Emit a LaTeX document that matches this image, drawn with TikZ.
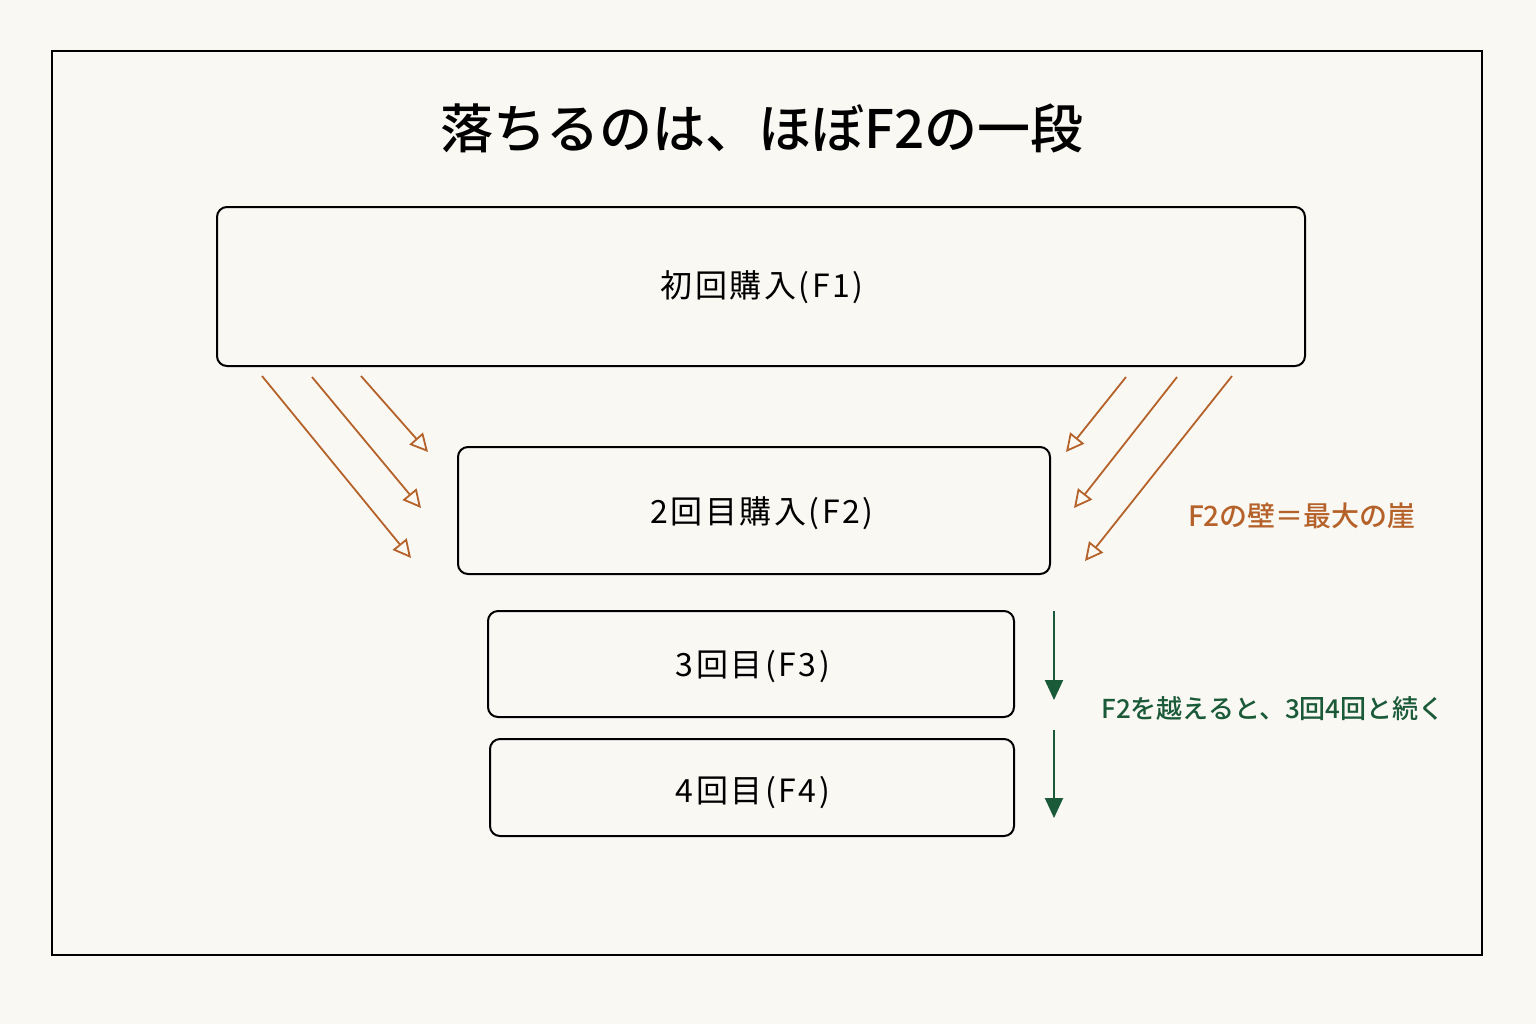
\documentclass[tikz,border=0pt]{standalone}
\usepackage{fontspec}
\newfontfamily\jpsans{Noto Sans CJK JP Medium}
\newfontfamily\jpspaced[LetterSpace=8]{Noto Sans CJK JP}
\newfontfamily\jptitle{Noto Sans CJK JP Medium}
\usetikzlibrary{arrows.meta}
\definecolor{bg}{HTML}{FAF8F3}
\definecolor{drop}{HTML}{B5612A}
\definecolor{keep}{HTML}{1A5A38}
\tikzset{
  stage/.style={draw=black, line width=1pt, rounded corners=5pt, fill=bg},
  stagetext/.style={font=\jpspaced\fontsize{16}{19}\selectfont, text=black},
  droparrow/.style={draw=drop, line width=0.9pt, -{Triangle[open, length=9pt, width=9pt]}},
  keeparrow/.style={draw=keep, line width=1pt, -{Triangle[length=10pt, width=9pt]}},
}
\begin{document}
\begin{tikzpicture}[x=0.5pt, y=-0.5pt]
\useasboundingbox[fill=bg] (0,0) rectangle (1536,1024);
\draw[line width=1pt] (52,51) rectangle (1482,955);
\node[font=\jptitle\fontsize{26.5}{30}\selectfont] (title) at (762,128) {落ちるのは、ほぼF2の一段};
% boxes
\draw[stage] (217,207) rectangle (1305,366);
\node[stagetext] (f1) at (762,287) {初回購入(F1)};
\draw[stage] (458,447) rectangle (1050,574);
\node[stagetext] (f2) at (762,513) {2回目購入(F2)};
\draw[stage] (488,611) rectangle (1014,717);
\node[stagetext] (f3) at (753,667) {3回目(F3)};
\draw[stage] (490,739) rectangle (1014,836);
\node[stagetext] (f4) at (753,793) {4回目(F4)};
% drop arrows
\coordinate (l1s) at (262,376); \coordinate (l1e) at (411,558);
\coordinate (l2s) at (312,377); \coordinate (l2e) at (421,508);
\coordinate (l3s) at (361,376); \coordinate (l3e) at (428,452);
\coordinate (r1s) at (1126,377); \coordinate (r1e) at (1066,452);
\coordinate (r2s) at (1177,377); \coordinate (r2e) at (1074,508);
\coordinate (r3s) at (1232,376); \coordinate (r3e) at (1085,561);
\foreach \a in {l1,l2,l3,r1,r2,r3} {\draw[droparrow] (\a s) -- (\a e);}
\node[font=\jpsans\fontsize{14}{17}\selectfont, text=drop] (wall) at (1302,516) {F2の壁＝最大の崖};
% keep arrows
\coordinate (k1s) at (1054,611); \coordinate (k1e) at (1054,700);
\coordinate (k2s) at (1054,730); \coordinate (k2e) at (1054,818);
\draw[keeparrow] (k1s) -- (k1e);
\draw[keeparrow] (k2s) -- (k2e);
\node[font=\jpsans\fontsize{13}{16}\selectfont, text=keep] (cont) at (1273,709) {F2を越えると、3回4回と続く};
\end{tikzpicture}
\end{document}
